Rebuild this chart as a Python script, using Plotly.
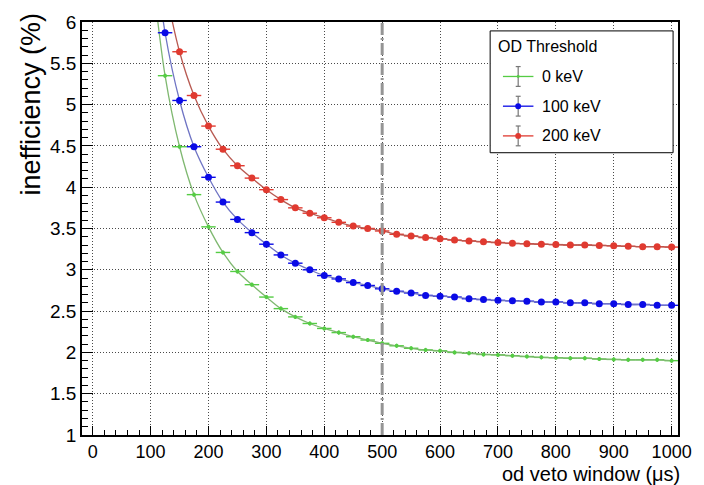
import plotly.graph_objects as go

# ---------------- data ----------------
window_us = list(range(100, 1001, 25))

ineff_0keV = [6.75, 5.35, 4.49, 3.91, 3.52, 3.21, 2.98, 2.82, 2.67, 2.53, 2.43, 2.35,
              2.29, 2.24, 2.19, 2.15, 2.11, 2.08, 2.05, 2.03, 2.02, 2.00, 1.99, 1.975,
              1.97, 1.96, 1.95, 1.94, 1.935, 1.93, 1.93, 1.92, 1.915, 1.91, 1.91, 1.91, 1.90]
ineff_100keV = [7.20, 5.87, 5.05, 4.49, 4.12, 3.82, 3.61, 3.45, 3.31, 3.18, 3.08, 3.00,
                2.93, 2.89, 2.845, 2.81, 2.77, 2.74, 2.72, 2.69, 2.68, 2.67, 2.65, 2.64,
                2.63, 2.625, 2.62, 2.61, 2.61, 2.60, 2.60, 2.59, 2.59, 2.58, 2.58, 2.57, 2.57]
ineff_200keV = [7.60, 6.45, 5.64, 5.11, 4.74, 4.46, 4.26, 4.11, 3.97, 3.85, 3.75, 3.685,
                3.63, 3.575, 3.53, 3.50, 3.47, 3.43, 3.41, 3.39, 3.375, 3.36, 3.35, 3.34,
                3.33, 3.32, 3.315, 3.31, 3.305, 3.30, 3.30, 3.295, 3.29, 3.285, 3.28, 3.28, 3.275]

x_err = 12.5
y_err = 0.025

series_names = ["0 keV", "100 keV", "200 keV"]
legend_title = "OD Threshold"
marker_colors = ["#55cc44", "#0a0ae6", "#e03a30"]
line_colors = ["#7fb870", "#6f74c4", "#b85a52"]
marker_sizes = [4, 7, 7]

cut_window = 500
x_ticks = list(range(0, 1001, 100))
y_ticks = [1, 1.5, 2, 2.5, 3, 3.5, 4, 4.5, 5, 5.5, 6]

FONT = "Liberation Sans, Arial, Helvetica, sans-serif"

# plot-area geometry (pixels) used for the hand-drawn legend box
W, H = 704, 485
ML, MR, MT, MB = 82, 16, 18, 50
PW, PH = W - ML - MR, H - MT - MB


def px(xp):
    return (xp - ML) / PW


def py(yp):
    return (H - MB - yp) / PH


fig = go.Figure()
for name, ys, mc, lc, ms in zip(series_names, [ineff_0keV, ineff_100keV, ineff_200keV],
                                marker_colors, line_colors, marker_sizes):
    fig.add_trace(go.Scatter(
        x=window_us, y=ys, name=name, mode="lines+markers",
        line=dict(color=lc, width=1.3, shape="spline", smoothing=0.8),
        marker=dict(color=mc, size=ms, symbol="circle", line=dict(width=0)),
        error_x=dict(type="constant", value=x_err, width=0, thickness=1.4, color=mc),
        error_y=dict(type="constant", value=y_err, width=0, thickness=1.4, color=mc),
        showlegend=False,
    ))

shapes = [dict(type="line", xref="x", yref="y", x0=cut_window, x1=cut_window, y0=1, y1=6,
               line=dict(color="#959595", width=3, dash="12px,3px,2px,3px"), layer="above")]
annotations = [
    dict(text="inefficiency (%)", xref="paper", yref="paper", x=px(30), y=py(6),
         xanchor="center", yanchor="top", textangle=-90, showarrow=False,
         font=dict(family=FONT, size=27)),
    dict(text="od veto window (\u03bcs)", xref="paper", yref="paper", x=px(692), y=py(474),
         xanchor="right", yanchor="middle", showarrow=False,
         font=dict(family=FONT, size=20)),
]

# legend box (drawn by hand so that it shows error-bar style symbols)
shapes.append(dict(type="rect", xref="paper", yref="paper", x0=px(497), x1=px(683),
                   y0=py(150), y1=py(27), line=dict(color="black", width=1),
                   fillcolor="white", layer="above"))
annotations.append(dict(text=legend_title, xref="paper", yref="paper", x=px(503), y=py(43),
                        xanchor="left", yanchor="middle", showarrow=False,
                        font=dict(family=FONT, size=16)))
for i, (name, mc, lc) in enumerate(zip(series_names, marker_colors, line_colors)):
    yc = 73 + 30 * i
    shapes.append(dict(type="line", xref="paper", yref="paper", x0=px(510), x1=px(541),
                       y0=py(yc), y1=py(yc), line=dict(color=mc, width=1.3), layer="above"))
    shapes.append(dict(type="line", xref="paper", yref="paper", x0=px(525.5), x1=px(525.5),
                       y0=py(yc - 10), y1=py(yc + 10), line=dict(color="#777777", width=1.2),
                       layer="above"))
    for cap in (yc - 10, yc + 10):
        shapes.append(dict(type="line", xref="paper", yref="paper", x0=px(523), x1=px(528),
                           y0=py(cap), y1=py(cap), line=dict(color="#777777", width=1.2),
                           layer="above"))
    r = 1.5 if i == 0 else 3
    shapes.append(dict(type="circle", xref="paper", yref="paper", x0=px(525.5 - r),
                       x1=px(525.5 + r), y0=py(yc + r), y1=py(yc - r),
                       line=dict(width=0), fillcolor=mc, layer="above"))
    annotations.append(dict(text=name, xref="paper", yref="paper", x=px(548), y=py(yc),
                            xanchor="left", yanchor="middle", showarrow=False,
                            font=dict(family=FONT, size=16)))

fig.update_layout(
    width=W, height=H,
    margin=dict(l=ML, r=MR, t=MT, b=MB),
    paper_bgcolor="white", plot_bgcolor="white",
    font=dict(family=FONT, color="black", size=18),
    showlegend=False,
    shapes=shapes,
    annotations=annotations,
)

fig.update_xaxes(
    range=[-18.5, 1011], tickvals=x_ticks, ticktext=[str(v) for v in x_ticks],
    ticks="inside", ticklen=9, tickwidth=1, tickcolor="black",
    minor=dict(dtick=20, tick0=0, ticks="inside", ticklen=5, tickcolor="black", showgrid=False),
    showgrid=True, gridcolor="#4a4a4a", griddash="1px,2px", gridwidth=1,
    showline=True, linecolor="black", linewidth=1.5, mirror=True,
    zeroline=False, tickfont=dict(size=18),
)
fig.update_yaxes(
    range=[1, 6], tickvals=y_ticks, ticktext=[("%g" % v) for v in y_ticks],
    ticks="inside", ticklen=11, tickwidth=1, tickcolor="black",
    minor=dict(dtick=0.1, tick0=1, ticks="inside", ticklen=6, tickcolor="black", showgrid=False),
    showgrid=True, gridcolor="#4a4a4a", griddash="1px,2px", gridwidth=1,
    showline=True, linecolor="black", linewidth=1.5, mirror=True,
    zeroline=False, tickfont=dict(size=19),
)

fig.write_html("out.html")
